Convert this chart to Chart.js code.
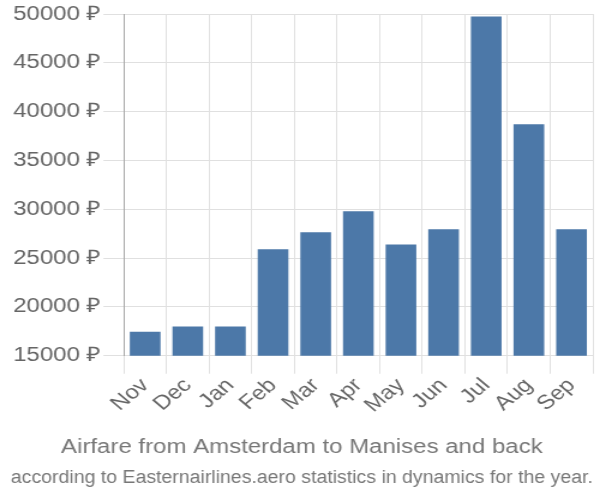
<!DOCTYPE html>
<html>
<head>
<meta charset="utf-8">
<script src="https://cdn.jsdelivr.net/npm/chart.js@4/dist/chart.umd.min.js"></script>
<style>
  html, body { margin: 0; padding: 0; background: #fff; overflow: hidden; }
  #wrap { width: 500px; height: 500px; transform: scaleX(1.2); transform-origin: 0 0; }
</style>
</head>
<body>
<div id="wrap"><canvas id="graph1"></canvas></div>
<script>
var months = ["Nov", "Dec", "Jan", "Feb", "Mar", "Apr", "May", "Jun", "Jul", "Aug", "Sep"];
var prices = [17450, 18000, 18000, 25900, 27650, 29800, 26400, 27950, 49750, 38700, 27950];
var yTicks = [15000, 20000, 25000, 30000, 35000, 40000, 45000, 50000];

Chart.defaults.font.family = "'Liberation Sans', Arial, sans-serif";
Chart.defaults.color = "#666";

let graph1 = document.getElementById('graph1').getContext('2d');
const myChart = new Chart(graph1, {
    type: 'bar',
    data: {
        labels: months,
        datasets: [{
            data: prices,
            backgroundColor: '#4c78a8',
            borderWidth: 0
        }]
    },
    options: {
        responsive: true,
        maintainAspectRatio: false,
        animation: false,
        layout: { padding: { top: 4, right: 6, left: 9, bottom: 7 } },
        scales: {
            x: {
                grid: { color: '#e0e0e0', lineWidth: 1, tickLength: 18, offset: true },
                border: { color: '#e0e0e0' },
                ticks: { font: { size: 20 }, color: '#666', maxRotation: 45, minRotation: 45, padding: 0, autoSkip: false }
            },
            y: {
                min: 15000,
                max: 50000,
                afterBuildTicks: function (axis) {
                    axis.ticks = yTicks.map(function (v) { return { value: v }; });
                },
                grid: { color: '#e0e0e0', lineWidth: 1, tickLength: 17 },
                border: { color: '#aaa', width: 1 },
                ticks: {
                    font: { size: 20 },
                    color: '#666',
                    padding: 2,
                    callback: function (v) { return v + ' ₽'; }
                }
            }
        },
        plugins: {
            legend: { display: false },
            tooltip: { enabled: false },
            subtitle: {
                display: true,
                position: 'bottom',
                text: 'Airfare from Amsterdam to Manises and back',
                font: { size: 20, weight: 'normal' },
                color: '#777',
                padding: { top: 18, bottom: 4 }
            },
            title: {
                display: true,
                position: 'bottom',
                text: 'according to Easternairlines.aero statistics in dynamics for the year.',
                font: { size: 18, weight: 'normal' },
                color: '#777',
                padding: { top: 4, bottom: 4 }
            }
        }
    }
});
</script>
</body>
</html>
